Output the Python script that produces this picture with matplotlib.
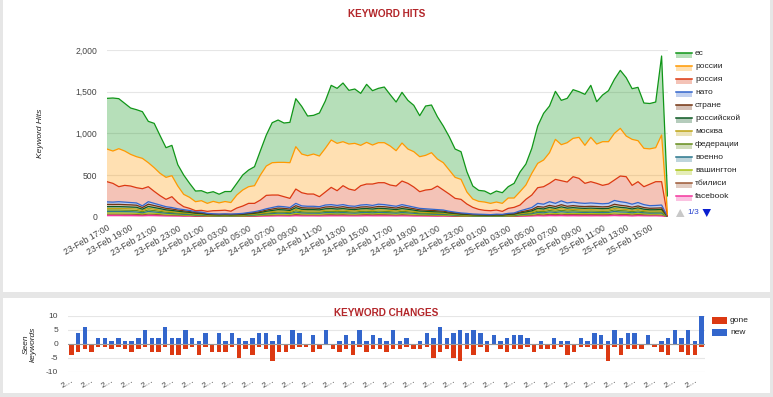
import numpy as np
import matplotlib
matplotlib.use('Agg')
import matplotlib.pyplot as plt
from matplotlib.patches import Rectangle, Polygon
from matplotlib.lines import Line2D

plt.rcParams['font.family'] = ['Liberation Sans', 'DejaVu Sans']

# ---------------- data ----------------
time_labels = ["23-Feb 17:00", "23-Feb 19:00", "23-Feb 21:00", "23-Feb 23:00",
               "24-Feb 01:00", "24-Feb 03:00", "24-Feb 05:00", "24-Feb 07:00",
               "24-Feb 09:00", "24-Feb 11:00", "24-Feb 13:00", "24-Feb 15:00",
               "24-Feb 17:00", "24-Feb 19:00", "24-Feb 21:00", "24-Feb 23:00",
               "25-Feb 01:00", "25-Feb 03:00", "25-Feb 05:00", "25-Feb 07:00",
               "25-Feb 09:00", "25-Feb 11:00", "25-Feb 13:00", "25-Feb 15:00"]

es = [608, 636, 600, 572, 556, 564, 560, 496, 532, 452,
      356, 364, 256, 232, 168, 128, 120, 124, 116, 104,
      120, 132, 140, 180, 200, 228, 292, 372, 480, 508,
      472, 484, 576, 572, 476, 464, 516, 568, 656, 660,
      704, 644, 652, 624, 696, 652, 652, 668, 616, 584,
      608, 584, 556, 492, 592, 572, 508, 440, 400, 340,
      332, 244, 156, 132, 132, 112, 132, 128, 136, 176,
      236, 252, 300, 448, 560, 560, 576, 532, 532, 584,
      548, 612, 624, 508, 560, 612, 648, 696, 700, 608,
      640, 544, 544, 548, 948, 220]
rossii = [392, 388, 456, 412, 380, 372, 364, 288, 284, 268,
          264, 252, 200, 148, 132, 108, 116, 96, 112, 92,
          104, 104, 156, 192, 200, 212, 300, 352, 388, 392,
          412, 428, 508, 464, 460, 480, 488, 524, 568, 568,
          528, 540, 564, 484, 500, 468, 480, 480, 468, 424,
          456, 412, 424, 420, 416, 440, 324, 328, 288, 252,
          240, 144, 100, 96, 100, 88, 96, 96, 124, 112,
          160, 172, 260, 292, 320, 368, 480, 432, 472, 460,
          492, 456, 532, 472, 524, 508, 560, 572, 488, 552,
          492, 460, 424, 408, 560, 20]
rossiya = [242, 225, 180, 201, 198, 183, 206, 180, 144, 112,
           88, 130, 73, 35, 25, 12, 21, 24, 37, 42,
           44, 34, 69, 88, 110, 100, 125, 161, 150, 135,
           120, 110, 172, 158, 147, 147, 120, 156, 207, 177,
           227, 202, 191, 232, 247, 257, 258, 263, 245, 243,
           283, 270, 241, 200, 225, 238, 283, 240, 207, 165,
           163, 112, 80, 58, 48, 47, 50, 36, 60, 67,
           70, 118, 150, 188, 210, 220, 288, 242, 251, 305,
           295, 240, 255, 240, 221, 232, 245, 308, 310, 226,
           250, 215, 258, 285, 280, 5]
nato = [30, 28, 32, 30, 28, 27, 20, 30, 26, 22,
        20, 18, 15, 14, 12, 10, 9, 6, 6, 5,
        5, 5, 6, 7, 8, 10, 13, 16, 18, 21,
        20, 18, 28, 22, 21, 21, 20, 24, 25, 23,
        25, 22, 21, 24, 26, 23, 27, 25, 23, 21,
        25, 22, 19, 17, 16, 15, 14, 13, 11, 9,
        8, 7, 5, 5, 5, 4, 5, 5, 7, 8,
        14, 20, 25, 38, 36, 44, 38, 46, 40, 42,
        40, 38, 40, 38, 37, 38, 46, 43, 41, 36,
        41, 35, 31, 32, 34, 1]
strane = [27, 26, 27, 26, 26, 25, 20, 27, 24, 21,
          18, 17, 14, 13, 11, 9, 8, 6, 5, 5,
          5, 5, 5, 6, 8, 9, 11, 14, 17, 19,
          18, 17, 24, 19, 19, 19, 18, 21, 22, 20,
          22, 19, 19, 21, 21, 20, 22, 22, 20, 19,
          22, 19, 17, 15, 14, 14, 13, 12, 10, 8,
          7, 6, 5, 5, 4, 4, 5, 4, 6, 7,
          10, 13, 15, 22, 21, 24, 22, 26, 22, 24,
          22, 22, 22, 22, 21, 22, 27, 25, 23, 21,
          23, 20, 18, 19, 19, 1]
rossiyskoy = [22, 22, 22, 22, 21, 21, 16, 22, 20, 18,
              15, 14, 12, 11, 9, 8, 7, 5, 4, 4,
              4, 4, 4, 5, 6, 8, 9, 12, 14, 16,
              15, 14, 20, 16, 16, 16, 15, 17, 18, 17,
              18, 16, 16, 17, 18, 17, 18, 18, 17, 16,
              18, 16, 14, 12, 12, 11, 11, 10, 8, 7,
              6, 5, 4, 4, 3, 3, 4, 3, 5, 6,
              8, 10, 13, 18, 17, 20, 18, 22, 19, 20,
              19, 18, 19, 18, 18, 18, 22, 21, 19, 17,
              19, 16, 15, 15, 16, 1]
moskva = [19, 19, 19, 19, 18, 18, 14, 20, 17, 15,
          13, 12, 10, 9, 8, 7, 6, 4, 4, 3,
          4, 3, 4, 4, 5, 7, 8, 10, 12, 14,
          13, 12, 17, 14, 14, 14, 13, 15, 16, 15,
          16, 14, 14, 15, 15, 15, 16, 16, 15, 14,
          16, 14, 12, 11, 10, 10, 9, 9, 7, 6,
          5, 4, 4, 3, 3, 3, 3, 3, 4, 5,
          7, 9, 11, 16, 15, 18, 16, 19, 16, 17,
          16, 16, 16, 16, 15, 16, 19, 18, 17, 15,
          17, 14, 13, 13, 14, 0]
federatsii = [18, 18, 18, 17, 17, 17, 13, 18, 16, 14,
              12, 11, 10, 9, 8, 6, 6, 4, 3, 3,
              3, 3, 3, 4, 5, 6, 7, 9, 11, 12,
              12, 11, 16, 13, 12, 12, 12, 14, 14, 13,
              14, 13, 12, 14, 14, 13, 15, 14, 13, 12,
              14, 13, 12, 10, 9, 9, 9, 8, 6, 6,
              4, 4, 3, 3, 3, 3, 3, 3, 4, 4,
              7, 8, 10, 15, 14, 16, 15, 17, 15, 16,
              15, 15, 15, 15, 14, 15, 18, 16, 15, 14,
              15, 13, 12, 12, 13, 0]
voenno = [16, 16, 16, 16, 16, 15, 12, 17, 15, 13,
          11, 10, 9, 8, 7, 5, 5, 4, 3, 3,
          3, 3, 3, 4, 5, 5, 7, 9, 10, 11,
          11, 10, 15, 12, 11, 11, 11, 13, 13, 12,
          13, 12, 11, 13, 13, 12, 14, 13, 12, 11,
          13, 12, 11, 9, 9, 8, 8, 7, 6, 5,
          4, 4, 3, 3, 3, 2, 3, 3, 4, 4,
          6, 8, 9, 13, 13, 15, 13, 16, 14, 15,
          14, 13, 14, 13, 13, 13, 16, 15, 14, 13,
          14, 12, 11, 11, 12, 0]
vashington = [15, 15, 15, 15, 14, 14, 11, 15, 13, 12,
              10, 9, 8, 7, 6, 5, 5, 3, 3, 3,
              3, 3, 3, 3, 4, 5, 6, 8, 9, 10,
              10, 9, 13, 11, 10, 10, 10, 12, 12, 11,
              12, 11, 10, 12, 12, 11, 12, 12, 11, 10,
              12, 11, 10, 8, 8, 8, 7, 7, 5, 5,
              4, 3, 3, 3, 2, 2, 3, 2, 3, 4,
              6, 7, 9, 12, 11, 14, 12, 14, 13, 13,
              13, 12, 13, 12, 12, 12, 15, 14, 13, 11,
              13, 11, 10, 10, 11, 0]
tbilisi = [16, 16, 16, 16, 16, 15, 12, 16, 15, 13,
           11, 10, 9, 8, 7, 6, 5, 4, 3, 3,
           3, 3, 3, 4, 5, 5, 7, 9, 10, 11,
           11, 10, 14, 12, 11, 11, 11, 13, 13, 12,
           13, 12, 11, 13, 13, 12, 14, 13, 12, 11,
           13, 12, 11, 9, 9, 8, 8, 7, 6, 5,
           4, 4, 3, 3, 3, 2, 3, 3, 4, 4,
           6, 8, 9, 13, 12, 15, 13, 16, 14, 15,
           14, 13, 14, 13, 13, 13, 16, 15, 14, 13,
           14, 12, 11, 11, 12, 1]
facebook = [15, 15, 15, 14, 14, 13, 12, 15, 14, 12,
            10, 9, 8, 6, 7, 4, 4, 4, 4, 3,
            4, 3, 4, 3, 4, 5, 7, 8, 9, 11,
            10, 9, 13, 11, 11, 11, 10, 11, 12, 12,
            12, 11, 11, 11, 13, 12, 12, 12, 12, 11,
            12, 11, 9, 9, 8, 7, 6, 7, 6, 4,
            3, 3, 2, 1, 2, 2, 1, 2, 3, 3,
            6, 7, 9, 13, 11, 14, 13, 14, 12, 13,
            12, 13, 12, 13, 12, 13, 16, 13, 14, 10,
            14, 12, 11, 12, 9, 1]

series_names = ["ес", "россии", "россия", "нато", "стране", "российской",
                "москва", "федерации", "военно", "вашингтон", "тбилиси", "facebook"]
series_values = [es, rossii, rossiya, nato, strane, rossiyskoy,
                 moskva, federatsii, voenno, vashington, tbilisi, facebook]
series_colors = ["#109618", "#ff9900", "#dc3912", "#3366cc", "#743411", "#0c5922",
                 "#bea413", "#668d1c", "#2a778d", "#a9c413", "#9c5935", "#f4359e"]

new_kw = [0, 4, 6, 0, 2, 2, 1, 2, 1, 1, 2, 5, 2, 2, 6, 2, 2, 5, 2, 1,
          4, 0, 4, 1, 4, 2, 1, 2, 4, 4, 1, 3, 0, 5, 4, 0, 3, 0, 5, 0,
          1, 3, 1, 5, 1, 3, 2, 1,
          5, 1, 2, 0, 1, 4, 2, 6, 2, 4, 5, 4, 5, 4, 1, 3, 1, 2, 3, 3,
          2, 0, 1, 0, 2, 1, 1, 0, 2, 1, 4, 3, 1, 5, 2, 4, 4, 0, 3, 0,
          1, 2, 5, 2, 5, 1, 10]
gone_kw = [4, 3, 2, 3, 1, 1, 2, 1, 2, 3, 2, 1, 3, 3, 1, 4, 4, 2, 1, 4,
           1, 3, 3, 3, 1, 5, 2, 4, 1, 2, 6, 3, 3, 2, 1, 1, 3, 2, 0, 2,
           3, 2, 4, 1, 3, 2, 2, 3,
           2, 2, 1, 2, 2, 1, 5, 3, 2, 5, 6, 2, 4, 1, 3, 0, 2, 3, 2, 2,
           1, 3, 2, 2, 2, 1, 4, 3, 1, 1, 2, 2, 6, 1, 4, 2, 2, 2, 0, 1,
           3, 4, 0, 3, 4, 4, 1]

# ---------------- layout helpers ----------------
W, H = 773, 397
def fx(x): return x / W
def fy(y): return 1 - y / H

fig = plt.figure(figsize=(W / 100, H / 100), dpi=100, facecolor='#e6e6e6')
fig.add_artist(Rectangle((fx(3), fy(292)), fx(770) - fx(3), fy(0) - fy(292),
                         transform=fig.transFigure, facecolor='white', edgecolor='none', zorder=-10))
fig.add_artist(Rectangle((fx(3), fy(393)), fx(770) - fx(3), fy(298) - fy(393),
                         transform=fig.transFigure, facecolor='white', edgecolor='none', zorder=-10))

title_color = '#b3262a'
tick_color = '#444444'

# ---------------- top chart ----------------
ax = fig.add_axes([fx(107), fy(216.7), 560.5 / W, 166.7 / H])
ax.set_facecolor('none')
n = len(es)
x = np.arange(n)
# stack from bottom: facebook ... ес on top
order = list(range(len(series_values)))[::-1]
vals = [np.array(series_values[i], dtype=float) for i in order]
cols = [series_colors[i] for i in order]
polys = ax.stackplot(x, *vals, colors=cols, alpha=0.3, linewidth=0)
cum = np.cumsum(np.vstack(vals), axis=0)
for k in range(len(vals)):
    ax.plot(x, cum[k], color=cols[k], lw=0.9, solid_joinstyle='round', zorder=3)

ax.set_xlim(0, n - 1)
ax.set_ylim(0, 2000)
ax.set_yticks([0, 500, 1000, 1500, 2000])
ax.set_yticklabels(['0', '500', '1,000', '1,500', '2,000'])
ax.yaxis.grid(True, color='#e6e6e6', lw=0.8)
ax.set_axisbelow(True)
for s in ax.spines.values():
    s.set_visible(False)
ax.set_xticks(np.arange(0, 4 * len(time_labels), 4))
ax.set_xticklabels(time_labels, rotation=30, ha='right', rotation_mode='anchor')
ax.tick_params(axis='both', length=0, labelsize=6.2, colors=tick_color)
ax.tick_params(axis='y', pad=7)
ax.tick_params(axis='x', pad=5)

fig.text(fx(386.5), fy(14), 'KEYWORD HITS', ha='center', va='center',
         fontsize=7.2, fontweight='bold', color=title_color)
fig.text(fx(40), fy(133), 'Keyword Hits', ha='center', va='center', rotation=90,
         fontsize=6, style='italic', color='#222222')

# legend (top)
for j, (name, c) in enumerate(zip(series_names, series_colors)):
    yc = 54.5 + 13.0 * j
    fig.add_artist(Rectangle((fx(676), fy(yc + 3)), 16 / W, 5 / H, transform=fig.transFigure,
                             facecolor=c, alpha=0.3, edgecolor='none'))
    fig.add_artist(Line2D([fx(676), fx(692)], [fy(yc - 1.5), fy(yc - 1.5)],
                          transform=fig.transFigure, color=c, lw=1.1))
    fig.text(fx(695), fy(yc - 1), name, ha='left', va='center', fontsize=6, color='#222222')
fig.add_artist(Polygon([[fx(676), fy(217)], [fx(684.5), fy(217)], [fx(680.25), fy(209)]],
                       closed=True, transform=fig.transFigure, facecolor='#c8c8c8', edgecolor='none'))
fig.text(fx(687), fy(213), '1/3', ha='left', va='center', fontsize=6, color='#2a45d0')
fig.add_artist(Polygon([[fx(702.5), fy(209)], [fx(711), fy(209)], [fx(706.75), fy(217)]],
                       closed=True, transform=fig.transFigure, facecolor='#0a1fd0', edgecolor='none'))

# ---------------- bottom chart ----------------
bx = fig.add_axes([fx(68), fy(371.7), 637 / W, 55.7 / H])
bx.set_facecolor('none')
m = len(new_kw)
xb = np.arange(m)
bx.bar(xb, new_kw, width=0.66, color='#3366cc', zorder=2)
bx.bar(xb, -np.array(gone_kw), width=0.66, color='#dc3912', zorder=2)
bx.set_xlim(-0.5, m - 0.5)
bx.set_ylim(-10, 10)
bx.set_yticks([-10, -5, 0, 5, 10])
bx.set_yticklabels(['-10', '-5', '0', '5', '10'])
bx.yaxis.grid(True, color='#e6e6e6', lw=0.8)
bx.axhline(0, color='#999999', lw=0.8, zorder=3)
bx.set_axisbelow(True)
for s in bx.spines.values():
    s.set_visible(False)
bx.set_xticks(np.arange(0, m, 3))
bx.set_xticklabels(['2…'] * len(np.arange(0, m, 3)), rotation=30, ha='right', rotation_mode='anchor')
bx.tick_params(axis='both', length=0, labelsize=6, colors=tick_color)
bx.tick_params(axis='y', pad=7)
bx.tick_params(axis='x', pad=4)

fig.text(fx(386.5), fy(313.5), 'KEYWORD CHANGES', ha='center', va='center',
         fontsize=7.2, fontweight='bold', color=title_color)
fig.text(fx(30), fy(344), 'Seen\nkeywords', ha='center', va='center', rotation=90,
         fontsize=6, style='italic', color='#222222', linespacing=1.0)

for j, (name, c) in enumerate([('gone', '#dc3912'), ('new', '#3366cc')]):
    yc = 320 + 12 * j
    fig.add_artist(Rectangle((fx(712), fy(yc + 3.5)), 15 / W, 7 / H, transform=fig.transFigure,
                             facecolor=c, edgecolor='none'))
    fig.text(fx(730), fy(yc), name, ha='left', va='center', fontsize=6, color='#222222')

fig.savefig('out.png', dpi=100, facecolor=fig.get_facecolor())
